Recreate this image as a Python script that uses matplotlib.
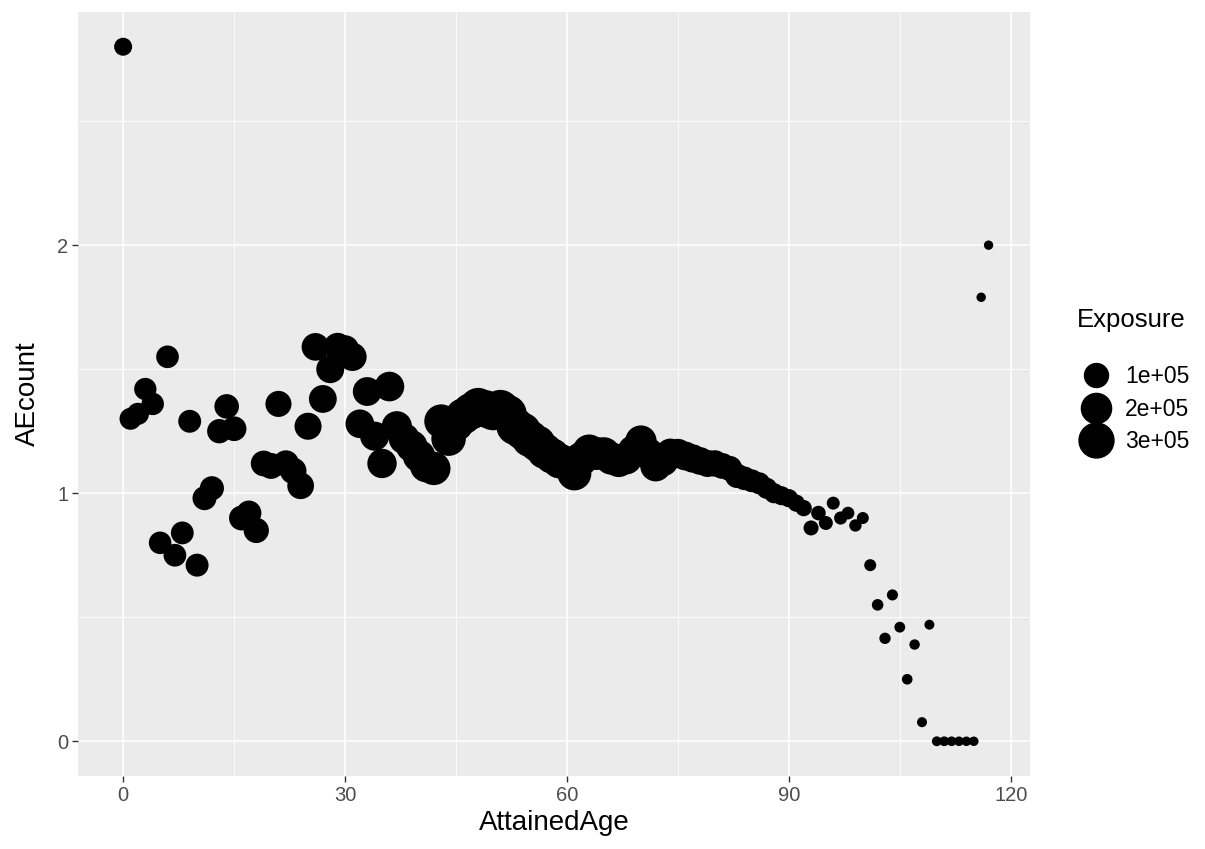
import numpy as np
import matplotlib.pyplot as plt
from matplotlib.lines import Line2D

plt.rcParams['font.family'] = ['Liberation Sans', 'DejaVu Sans']

# data
age = list(range(0, 118))
ae_count = [
    2.80,
    1.30, 1.32, 1.42, 1.36, 0.80, 1.55, 0.75, 0.84, 1.29, 0.71,
    0.98, 1.02, 1.25, 1.35, 1.26, 0.90, 0.92, 0.85, 1.12, 1.11,
    1.36, 1.12, 1.09, 1.03, 1.27, 1.59, 1.38, 1.50, 1.59, 1.58,
    1.55, 1.28, 1.41, 1.23, 1.12, 1.43, 1.27, 1.22, 1.19, 1.15,
    1.11, 1.10, 1.29, 1.22, 1.28, 1.31, 1.33, 1.35, 1.34, 1.33,
    1.34, 1.32, 1.27, 1.25, 1.22, 1.20, 1.17, 1.15, 1.13, 1.12,
    1.08, 1.14, 1.17, 1.16, 1.16, 1.14, 1.13, 1.14, 1.17, 1.21,
    1.16, 1.11, 1.13, 1.16, 1.16, 1.15, 1.14, 1.13, 1.12, 1.12,
    1.11, 1.10, 1.07, 1.06, 1.05, 1.04, 1.02, 1.00, 0.99, 0.98,
    0.96, 0.94, 0.86, 0.92, 0.88, 0.96, 0.90, 0.92, 0.87, 0.90,
    0.71, 0.55, 0.415, 0.59, 0.46, 0.25, 0.39, 0.077, 0.47, 0.0,
    0.0, 0.0, 0.0, 0.0, 0.0, 1.79, 2.00,
]
exposure = [
    36000,
    75000, 77000, 79000, 80000, 82000, 83000, 84000, 85000, 86000, 87000,
    100000, 102000, 105000, 108000, 110000, 112000, 115000, 118000,
    125000, 128000, 130000, 133000, 136000, 140000, 145000,
    155000, 158000, 160000, 162000, 165000, 168000,
    172000, 175000, 180000, 185000, 190000, 200000,
    215000, 230000, 245000, 255000, 265000, 275000, 290000, 305000,
    330000, 340000, 350000, 360000, 370000, 375000, 370000, 365000, 355000, 345000, 335000,
    320000, 310000, 300000, 290000, 280000, 270000, 260000, 255000, 250000,
    245000, 240000, 235000, 230000, 225000, 220000, 215000,
    205000, 195000, 185000, 175000, 165000, 155000, 145000, 135000,
    125000, 115000, 105000, 95000, 85000, 75000, 65000, 55000, 45000, 38000,
    30000, 24000, 16000, 14000, 11000, 7100, 7500, 6000, 5000, 4000,
    4000, 3000, 2500, 2000, 1500, 1200, 900, 500, 400,
    300, 250, 200, 150, 120, 100, 80, 60,
]
legend_values = [100000, 200000, 300000]
legend_labels = ['1e+05', '2e+05', '3e+05']


def diam_px(e):
    return 9 + 29 * np.sqrt(np.asarray(e) / 375000.0)


def area_pt(e):
    return (diam_px(e) * 72 / 100.0) ** 2


fig = plt.figure(figsize=(12.05, 8.49), dpi=100)
ax = fig.add_axes([78 / 1205, 1 - 776 / 849, (1030 - 78) / 1205, (776 - 12) / 849])
ax.set_facecolor('#EBEBEB')

ax.scatter(age, ae_count, s=area_pt(exposure), color='black', linewidths=0, zorder=3)

ax.set_xlim(-6.1, 122.6)
ax.set_ylim(-0.14, 2.94)
ax.set_xticks([0, 30, 60, 90, 120])
ax.set_yticks([0, 1, 2])
ax.set_xticks([15, 45, 75, 105], minor=True)
ax.set_yticks([0.5, 1.5, 2.5], minor=True)
ax.grid(which='major', color='white', linewidth=1.1, zorder=0)
ax.grid(which='minor', color='white', linewidth=0.55, zorder=0)
ax.set_axisbelow(True)
for sp in ax.spines.values():
    sp.set_visible(False)
ax.tick_params(which='major', length=4, width=1, color='#333333',
               labelsize=14.5, labelcolor='#4D4D4D', pad=3)
ax.tick_params(which='minor', length=0)

ax.set_xlabel('AttainedAge', fontsize=20, color='black', labelpad=4)
ax.set_ylabel('AEcount', fontsize=20, color='black', labelpad=12)

# legend for point size
fig.text(1077 / 1205, 1 - 320 / 849, 'Exposure', ha='left', va='center', fontsize=18.5)
handles = [Line2D([], [], linestyle='none', marker='o', color='black',
                  markersize=diam_px(v) * 0.72) for v in legend_values]
leg = fig.legend(handles, legend_labels, loc='upper left',
                 bbox_to_anchor=(1063 / 1205, 1 - 349 / 849), frameon=False,
                 fontsize=16.5, labelspacing=0.42,
                 handletextpad=0.5, borderpad=0.2, handlelength=1.5)

fig.savefig('out.png', dpi=100)
